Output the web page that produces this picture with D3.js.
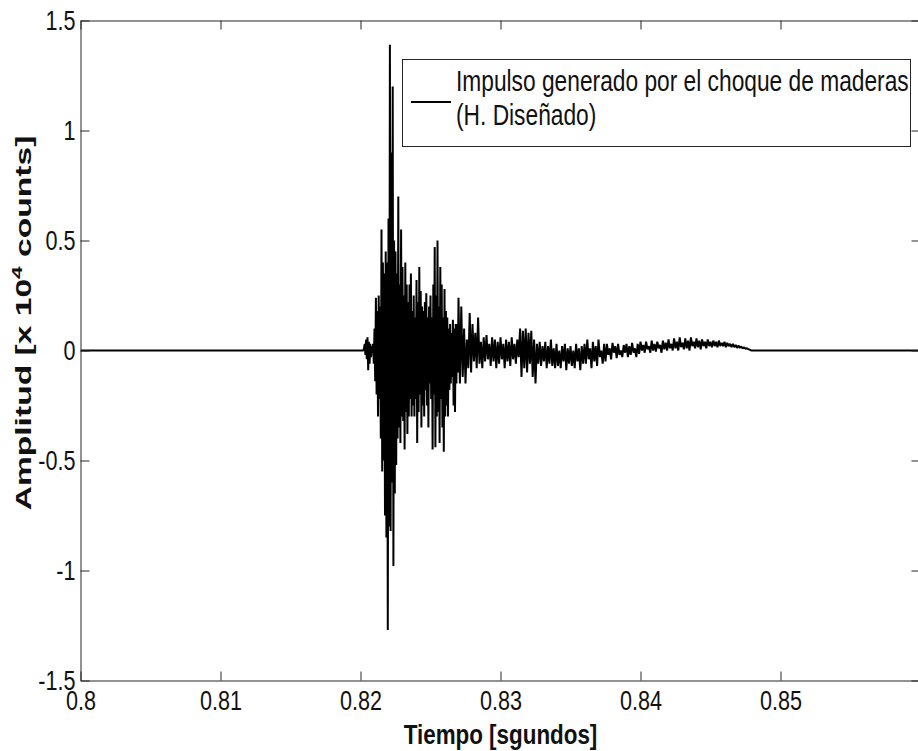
<!DOCTYPE html>
<html>
<head>
<meta charset="utf-8">
<script src="https://cdn.jsdelivr.net/npm/d3@7"></script>
<style>
  html, body { margin: 0; padding: 0; background: #fff; }
  svg { display: block; font-family: "Liberation Sans", Arial, sans-serif; }
</style>
</head>
<body>
<svg id="chart" width="918" height="751"></svg>
<script>
// ---- data ----
const xTicks = [0.8, 0.81, 0.82, 0.83, 0.84, 0.85];
const xTickLabels = ["0.8", "0.81", "0.82", "0.83", "0.84", "0.85"];
const yTicks = [-1.5, -1, -0.5, 0, 0.5, 1, 1.5];
const yTickLabels = ["-1.5", "-1", "-0.5", "0", "0.5", "1", "1.5"];

const xLabel = "Tiempo [sgundos]";
const legendLines = ["Impulso generado por el choque de maderas", "(H. Diseñado)"];

// silent parts of the record (time s, amplitude x10^4 counts)
const silenceBefore = [0.8, 0];
const silenceAfter = [0.86, 0];

// burst: 0.8200 s .. 0.8270 s, one sample every 0.05 ms
const burstStart = 0.8200, burstStep = 0.00005;
const burstValues = [
  0, 0, 0, 0, 0, 0.01, 0.03, -0.02, 0.05, -0.04,
  0.06, -0.09, 0.04, -0.06, 0.03, -0.03, 0.02, -0.01, 0.03, -0.06,
  0.1, -0.14, 0.24, -0.2, 0.18, -0.3, 0.25, -0.22, 0.2, -0.4,
  0.55, -0.55, 0.4, -0.5, 0.35, -0.75, 0.45, -0.85, 0.4, -1.27,
  0.6, -0.8, 1.39, -0.82, 0.9, -0.6, 1.2, -0.98, 0.5, -0.65,
  0.45, -0.52, 0.35, -0.4, 0.7, -0.35, 0.3, -0.42, 0.55, -0.3,
  0.38, -0.32, 0.25, -0.45, 0.4, -0.28, 0.3, -0.38, 0.22, -0.3,
  0.3, -0.22, 0.35, -0.3, 0.18, -0.25, 0.25, -0.3, 0.15, -0.22,
  0.32, -0.42, 0.22, -0.28, 0.38, -0.2, 0.27, -0.35, 0.2, -0.25,
  0.18, -0.3, 0.22, -0.18, 0.26, -0.25, 0.15, -0.35, 0.2, -0.15,
  0.25, -0.22, 0.15, -0.45, 0.3, -0.2, 0.47, -0.44, 0.25, -0.3,
  0.5, -0.28, 0.2, -0.42, 0.38, -0.22, 0.3, -0.35, 0.15, -0.46,
  0.28, -0.3, 0.18, -0.25, 0.15, -0.3, 0.1, -0.18, 0.12, -0.15,
  0.08, -0.12, 0.14, -0.25, 0.1, -0.28, 0.12, -0.15, 0.12, -0.1
];

// decay: 0.8270 s .. 0.8360 s, one sample every 0.1 ms
const decayStart = 0.8270, decayStep = 0.0001;
const decayValues = [
  0.24, -0.15, 0.2, -0.12, 0.1, -0.15, 0.05, -0.08, 0.17, -0.1,
  0.12, -0.05, 0.08, -0.08, 0.15, -0.06, 0.04, -0.08, 0.06, -0.05,
  0.07, -0.04, 0.03, -0.07, 0.06, -0.05, 0.05, -0.08, 0.04, -0.06,
  0.06, -0.04, 0.03, -0.08, 0.05, -0.05, 0.04, -0.07, 0.06, -0.04,
  0.03, -0.06, 0.05, -0.03, 0.1, -0.12, 0.09, -0.08, 0.1, -0.1,
  0.08, -0.06, 0.09, -0.12, 0.05, -0.15, 0.03, -0.06, 0.04, -0.07,
  0.02, -0.05, 0.04, -0.08, 0.02, -0.06, 0.05, -0.07, 0.01, -0.08,
  0.03, -0.07, 0.0, -0.08, 0.02, -0.05, 0.03, -0.09, 0.01, -0.06,
  0.02, -0.07, 0.0, -0.08, 0.03, -0.05, 0.01, -0.09, 0.02, -0.06
];

// tail: 0.8360 s .. 0.8479 s, one sample every 0.1 ms
const tailStart = 0.8360, tailStep = 0.0001;
const tailValues = [
  0.03, -0.06, 0.05, -0.04, 0.01, -0.08, 0.04, -0.05, 0.02, -0.07, 0.05, -0.03, 0.0, -0.06, 0.03, -0.05,
  0.03, -0.02, 0.01, -0.04, 0.035, -0.01, 0.02, -0.035, 0.03, -0.02, 0.0, -0.03,
  0.025, -0.01, 0.03, -0.03, 0.02, -0.02, 0.035, -0.01, 0.01, -0.03, 0.03, -0.015,
  0.04, 0.0, 0.025, -0.01, 0.04, 0.005, 0.02, -0.01, 0.045, 0.0, 0.03, -0.005,
  0.04, 0.01, 0.025, -0.01, 0.045, 0.005, 0.035, 0.0, 0.05, 0.01, 0.03, 0.0,
  0.055, 0.01, 0.04, 0.0, 0.06, 0.015, 0.035, 0.005, 0.055, 0.01, 0.045, 0.0,
  0.06, 0.02, 0.04, 0.01, 0.055, 0.015, 0.045, 0.005, 0.05, 0.02, 0.04, 0.01,
  0.05, 0.02, 0.04, 0.015, 0.045, 0.02, 0.04, 0.015, 0.045, 0.02,
  0.035, 0.02, 0.04, 0.015, 0.035, 0.02, 0.03, 0.015,
  0.03, 0.015, 0.025, 0.012, 0.022, 0.012, 0.018, 0.01, 0.014, 0.008, 0.01, 0.006, 0.004, 0
];

// ---- build series ----
const series = [silenceBefore];
burstValues.forEach((v, i) => series.push([burstStart + i * burstStep, v]));
decayValues.forEach((v, i) => series.push([decayStart + i * decayStep, v]));
tailValues.forEach((v, i) => series.push([tailStart + i * tailStep, v]));
series.push(silenceAfter);

// ---- layout ----
const svg = d3.select("#chart");
const mLeft = 80.5, mRight = 920.5, mTop = 20.5, mBottom = 680.5;
const SX = 0.8;            // horizontal squeeze of the lettering
const axisColor = "#262626";
const tickFont = 27;

const x = d3.scaleLinear().domain([0.8, 0.86]).range([mLeft, mRight]);
const y = d3.scaleLinear().domain([-1.5, 1.5]).range([mBottom, mTop]);

svg.append("defs").append("clipPath").attr("id", "clip")
  .append("rect").attr("x", mLeft).attr("y", mTop)
  .attr("width", mRight - mLeft).attr("height", mBottom - mTop);

// signal
const line = d3.line().x(d => x(d[0])).y(d => y(d[1]));
svg.append("path")
  .datum(series)
  .attr("clip-path", "url(#clip)")
  .attr("d", line)
  .attr("fill", "none")
  .attr("stroke", "#000")
  .attr("stroke-width", 2)
  .attr("stroke-linejoin", "bevel");

// axes
const fmtX = (d, i) => xTickLabels[i];
const fmtY = (d, i) => yTickLabels[i];

const gB = svg.append("g").attr("transform", `translate(0,${mBottom})`)
  .call(d3.axisBottom(x).tickValues(xTicks).tickFormat(fmtX).tickSizeInner(-9).tickSizeOuter(0).tickPadding(10));
const gT = svg.append("g").attr("transform", `translate(0,${mTop})`)
  .call(d3.axisTop(x).tickValues(xTicks).tickFormat("").tickSizeInner(-9).tickSizeOuter(0));
const gL = svg.append("g").attr("transform", `translate(${mLeft},0)`)
  .call(d3.axisLeft(y).tickValues(yTicks).tickFormat(fmtY).tickSizeInner(-9).tickSizeOuter(0).tickPadding(5));
const gR = svg.append("g").attr("transform", `translate(${mRight},0)`)
  .call(d3.axisRight(y).tickValues(yTicks).tickFormat("").tickSizeInner(-9).tickSizeOuter(0));

[gB, gT, gL, gR].forEach(g => {
  g.select(".domain").attr("stroke", axisColor).attr("stroke-width", 1);
  g.selectAll(".tick line").attr("stroke", axisColor).attr("stroke-width", 1);
  g.selectAll("text").attr("font-family", "\"Liberation Sans\", Arial, sans-serif")
    .attr("font-size", tickFont).attr("fill", "#111");
});
gB.selectAll(".tick text").attr("transform", `scale(${SX},1)`);
gL.selectAll(".tick text").attr("x", -5 / SX).attr("dy", "0.35em").attr("transform", `scale(${SX},1)`);

// x label
svg.append("text")
  .attr("transform", `translate(${(mLeft + mRight) / 2},744) scale(${SX},1)`)
  .attr("text-anchor", "middle")
  .attr("font-size", 28).attr("font-weight", "bold").attr("fill", "#111")
  .text(xLabel);

// y label (rotated)
const yl = svg.append("text")
  .attr("transform", `translate(31,323) rotate(-90) scale(1.2,${SX})`)
  .attr("text-anchor", "middle")
  .attr("font-size", 28).attr("font-weight", "bold").attr("fill", "#111");
yl.append("tspan").text("Amplitud [x 10");
yl.append("tspan").attr("font-size", 19).attr("dy", -11).text("4");
yl.append("tspan").attr("dy", 11).text(" counts]");

// legend
const leg = svg.append("g");
leg.append("rect").attr("x", 402.5).attr("y", 59.5).attr("width", 508).attr("height", 87)
  .attr("fill", "#fff").attr("stroke", axisColor).attr("stroke-width", 1);
leg.append("line").attr("x1", 411).attr("x2", 451).attr("y1", 102).attr("y2", 102)
  .attr("stroke", "#000").attr("stroke-width", 2);
legendLines.forEach((t, i) => {
  leg.append("text")
    .attr("transform", `translate(456,${91 + i * 34}) scale(0.785,1)`)
    .attr("font-size", 29).attr("fill", "#111")
    .text(t);
});
</script>
</body>
</html>
